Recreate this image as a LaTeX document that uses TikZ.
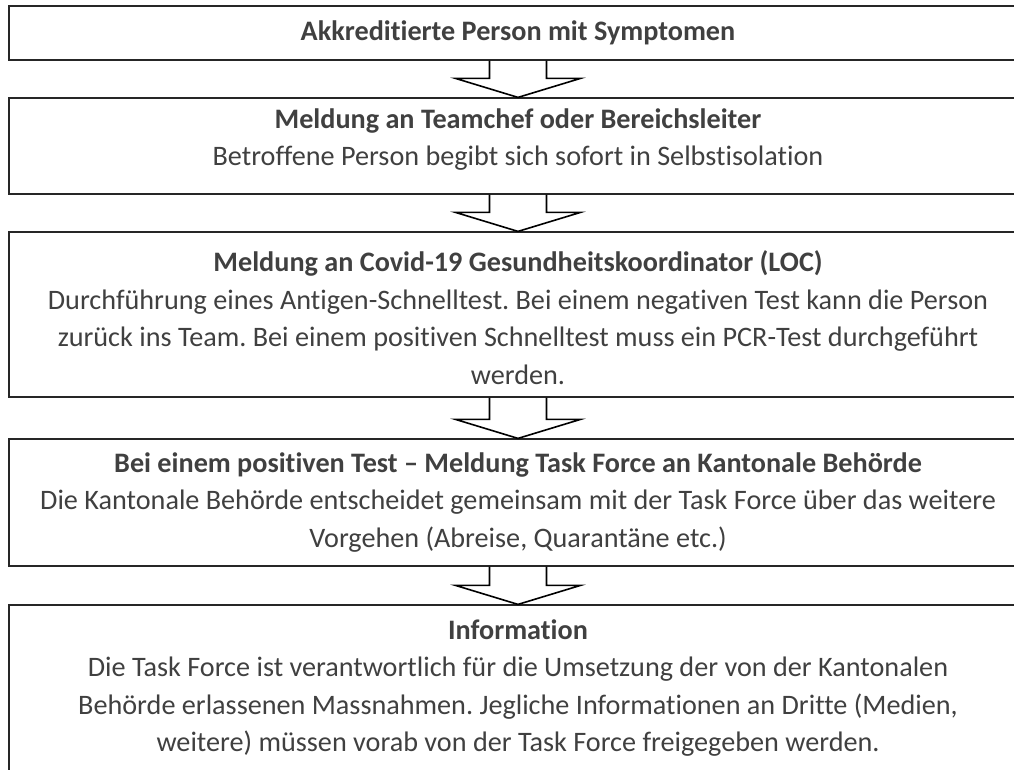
\documentclass[tikz,border=0pt]{standalone}
\usepackage{fontspec}
\setmainfont[Ligatures=NoCommon]{Carlito}
\usepackage{xcolor}
\usepackage{tikz}
\usetikzlibrary{calc}
\frenchspacing

\definecolor{txtgray}{HTML}{404040}
\tikzset{
  stepbox/.style={draw=black!85, line width=0.6pt, minimum width=509pt, inner sep=0pt},
  boxtext/.style={align=center, text=txtgray, font=\fontsize{14.1}{18.75}\selectfont},
  blockarrow/.style={draw=black, line width=0.8pt, line join=miter},
}

\begin{document}
\begin{tikzpicture}[x=0.5pt, y=-0.5pt]
        \useasboundingbox (0,0) rectangle (1014,771);
        \clip (0,0) rectangle (1014,769);

        % boxes
        \node[stepbox, minimum height=27pt] (akk) at (518,33) {};
        \node[stepbox, minimum height=48pt] (teamchef) at (518,146) {};
        \node[stepbox, minimum height=82.5pt] (loc) at (518,314.5) {};
        \node[stepbox, minimum height=63.5pt] (taskforce) at (518,502.5) {};
        \node[stepbox, minimum height=83pt] (info) at (518,688) {};

        % texts
        \node[boxtext] (akktxt) at (518,33) {\textbf{Akkreditierte Person mit Symptomen}};
        \node[boxtext] (teamcheftxt) at (518,139.5) {\textbf{Meldung an Teamchef oder Bereichsleiter}\\
          Betroffene Person begibt sich sofort in Selbstisolation};
        \node[boxtext] (loctxt) at (518,317.5) {\textbf{Meldung an Covid-19 Gesundheitskoordinator (LOC)}\\
          Durchführung eines Antigen-Schnelltest. Bei einem negativen Test kann die Person\\
          zurück ins Team. Bei einem positiven Schnelltest muss ein PCR-Test durchgeführt\\
          werden.};
        \node[boxtext] (taskforcetxt) at (518,502.5) {\textbf{Bei einem positiven Test – Meldung Task Force an Kantonale Behörde}\\
          Die Kantonale Behörde entscheidet gemeinsam mit der Task Force über das weitere\\
          Vorgehen (Abreise, Quarantäne etc.)};
        \node[boxtext] (infotxt) at (518,688) {\textbf{Information}\\
          Die Task Force ist verantwortlich für die Umsetzung der von der Kantonalen\\
          Behörde erlassenen Massnahmen. Jegliche Informationen an Dritte (Medien,\\
          weitere) müssen vorab von der Task Force freigegeben werden.};

        % block arrows
        \foreach \a/\b in {akk/teamchef, teamchef/loc, loc/taskforce, taskforce/info}
          \draw[blockarrow] ($(\a.south)+(-28.5,0)$) -- ($(\b.north)+(-28.5,-19)$)
            -- ($(\b.north)+(-62.5,-19)$) -- (\b.north) -- ($(\b.north)+(62.5,-19)$)
            -- ($(\b.north)+(28.5,-19)$) -- ($(\a.south)+(28.5,0)$);
    \end{tikzpicture}
\end{document}
